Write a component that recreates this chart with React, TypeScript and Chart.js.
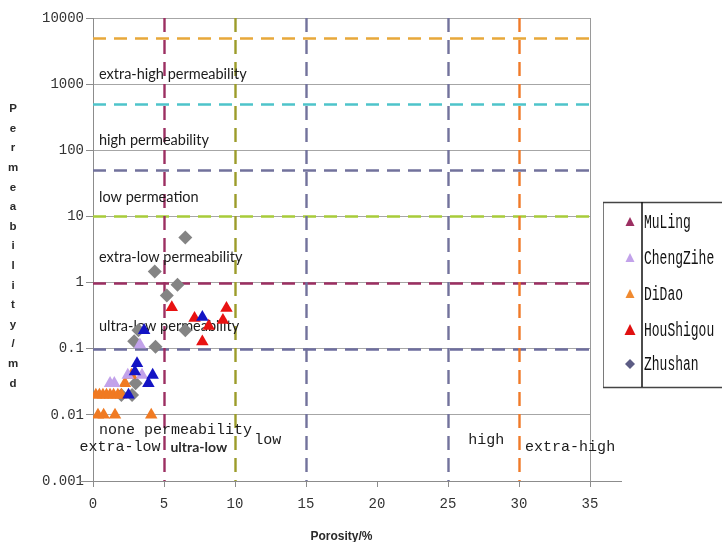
import React, { useEffect, useRef } from "react";
import { Chart, registerables } from "chart.js";

Chart.register(...registerables);

// ---------- data ----------
const xTickValues = [0, 5, 10, 15, 20, 25, 30, 35];
const yTickValues = [0.001, 0.01, 0.1, 1, 10, 100, 1000, 10000];
const yTickLabels = ["0.001", "0.01", "0.1", "1", "10", "100", "1000", "10000"];

const seriesNames = ["MuLing", "ChengZihe", "DiDao", "HouShigou", "Zhushan"];
const seriesPointColors = ["#1414C4", "#C2A2EA", "#F07A22", "#E81212", "#848484"];
const legendColors = ["#9C2F62", "#C2A2EA", "#F08A30", "#E01010", "#5C5C84"];
const seriesStyles = ["triangle", "triangle", "triangle", "triangle", "rectRot"];

const muLingX = [3.1, 2.95, 4.2, 3.9, 2.5, 3.6, 7.7];
const muLingY = [0.06, 0.045, 0.04, 0.03, 0.02, 0.19, 0.3];

const chengZiheX = [1.2, 1.5, 2.45, 3.45, 3.3];
const chengZiheY = [0.03, 0.03, 0.04, 0.04, 0.115];

const diDaoX = [0.2, 0.45, 0.7, 0.95, 1.2, 1.45, 1.75, 2.0, 0.35, 0.75, 1.55, 4.1, 2.25, 2.7];
const diDaoY = [0.02, 0.02, 0.02, 0.02, 0.02, 0.02, 0.02, 0.02, 0.01, 0.01, 0.01, 0.01, 0.03, 0.04];

const houShigouX = [5.55, 7.15, 8.15, 9.15, 9.4, 7.7];
const houShigouY = [0.42, 0.29, 0.22, 0.27, 0.41, 0.128];

const zhushanX = [6.5, 4.35, 5.95, 5.2, 6.5, 3.2, 2.9, 4.4, 3.0, 2.0, 2.75];
const zhushanY = [4.8, 1.47, 0.93, 0.64, 0.19, 0.19, 0.13, 0.107, 0.03, 0.02, 0.02];

const seriesX = [muLingX, chengZiheX, diDaoX, houShigouX, zhushanX];
const seriesY = [muLingY, chengZiheY, diDaoY, houShigouY, zhushanY];

// classification boundary lines
const hLineValues = [5000, 500, 50, 10, 1, 0.1];
const hLineColors = ["#E8A83A", "#4EC4CA", "#72729C", "#A8CC3A", "#9C2F62", "#6E6E9E"];
const vLineValues = [5, 10, 15, 25, 30];
const vLineColors = ["#9C2F62", "#9C9C2A", "#72729C", "#72729C", "#F07A28"];

// permeability zone labels
const zoneLabels = [
  "extra-high permeability",
  "high permeability",
  "low permeation",
  "extra-low permeability",
  "ultra-low permeability",
  "none permeability",
];
const zoneLabelValues = [1400, 140, 19.5, 2.4, 0.22, 0.0058];

// porosity class labels
const porosityLabels = ["extra-low", "ultra-low", "low", "high", "extra-high"];
const porosityLabelCenters = [1.9, 7.45, 12.3, 27.7, 33.6];

const MONO = '"Liberation Mono", "DejaVu Sans Mono", monospace';
const SANS = 'Lato, "Open Sans", sans-serif';

const overlayPlugin = {
  id: "overlay",
  beforeDatasetsDraw(chart: any) {
    const { ctx, chartArea, scales } = chart;
    const { left, right, top, bottom } = chartArea;
    const x = scales.x;
    const y = scales.y;
    ctx.save();
    ctx.lineWidth = 2.4;
    ctx.setLineDash([13, 8]);
    hLineValues.forEach((v, i) => {
      const py = Math.round(y.getPixelForValue(v)) + 0.5;
      ctx.strokeStyle = hLineColors[i];
      ctx.beginPath();
      ctx.moveTo(left, py);
      ctx.lineTo(right, py);
      ctx.stroke();
    });
    ctx.setLineDash([14, 8]);
    vLineValues.forEach((v, i) => {
      const px = Math.round(x.getPixelForValue(v)) + 0.5;
      ctx.strokeStyle = vLineColors[i];
      ctx.beginPath();
      ctx.moveTo(px, top);
      ctx.lineTo(px, bottom);
      ctx.stroke();
    });
    ctx.setLineDash([]);

    // zone labels
    ctx.fillStyle = "#1c1c1c";
    ctx.textBaseline = "middle";
    ctx.textAlign = "left";
    zoneLabels.forEach((t, i) => {
      const py = y.getPixelForValue(zoneLabelValues[i]);
      if (i === zoneLabels.length - 1) {
        ctx.font = `15px ${MONO}`;
      } else {
        ctx.font = `14.5px ${SANS}`;
      }
      ctx.fillText(t, left + 6, py);
    });

    // porosity labels near bottom
    porosityLabels.forEach((t, i) => {
      const px = x.getPixelForValue(porosityLabelCenters[i]);
      ctx.textAlign = "center";
      if (t === "ultra-low") {
        ctx.font = `bold 14px ${SANS}`;
        ctx.fillStyle = "#2a2a2a";
      } else {
        ctx.font = `15px ${MONO}`;
        ctx.fillStyle = "#1c1c1c";
      }
      const off = t === "low" || t === "high" ? 41 : 34;
      ctx.fillText(t, px, bottom - off);
    });
    ctx.restore();
  },
  afterDraw(chart: any) {
    const { ctx, chartArea } = chart;
    const { left, right, bottom } = chartArea;
    ctx.save();
    // extended baseline under bottom labels
    ctx.strokeStyle = "#8c8c8c";
    ctx.lineWidth = 1;
    ctx.beginPath();
    ctx.moveTo(80, Math.round(bottom) + 0.5);
    ctx.lineTo(622, Math.round(bottom) + 0.5);
    ctx.stroke();

    // y axis title (stacked letters)
    const yTitle = "Permeability/md";
    ctx.fillStyle = "#2a2a2a";
    ctx.font = 'bold 11.5px "Liberation Sans", Arial, sans-serif';
    ctx.textAlign = "center";
    ctx.textBaseline = "middle";
    const step = 19.6;
    const startY = 109;
    for (let i = 0; i < yTitle.length; i++) {
      ctx.fillText(yTitle[i], 13, startY + i * step);
    }

    // x axis title
    ctx.font = 'bold 12px "Liberation Sans", Arial, sans-serif';
    ctx.fillText("Porosity/%", (left + right) / 2, 537);

    // legend box
    const lx = 603;
    const ly = 202;
    const lb = 387;
    ctx.strokeStyle = "#7a7a7a";
    ctx.lineWidth = 1;
    ctx.beginPath();
    ctx.moveTo(lx + 0.5, ly);
    ctx.lineTo(lx + 0.5, lb);
    ctx.stroke();
    ctx.strokeStyle = "#444";
    ctx.lineWidth = 1.5;
    ctx.beginPath();
    ctx.moveTo(lx, ly + 0.5);
    ctx.lineTo(722, ly + 0.5);
    ctx.moveTo(lx, lb + 0.5);
    ctx.lineTo(722, lb + 0.5);
    ctx.stroke();
    ctx.strokeStyle = "#111";
    ctx.lineWidth = 1.5;
    ctx.beginPath();
    ctx.moveTo(642, ly);
    ctx.lineTo(642, lb);
    ctx.stroke();

    const rowY = [222, 258, 294, 330, 364];
    seriesNames.forEach((name, i) => {
      const cy = rowY[i];
      const mx = 630;
      ctx.fillStyle = legendColors[i];
      ctx.beginPath();
      if (seriesStyles[i] === "rectRot") {
        ctx.moveTo(mx, cy - 5);
        ctx.lineTo(mx + 5, cy);
        ctx.lineTo(mx, cy + 5);
        ctx.lineTo(mx - 5, cy);
      } else {
        const s = i === 3 ? 5.5 : 4.5;
        ctx.moveTo(mx, cy - s * 1.1);
        ctx.lineTo(mx + s, cy + s * 0.9);
        ctx.lineTo(mx - s, cy + s * 0.9);
      }
      ctx.closePath();
      ctx.fill();

      ctx.save();
      ctx.fillStyle = "#111";
      ctx.font = `13px ${MONO}`;
      ctx.textAlign = "left";
      ctx.textBaseline = "middle";
      ctx.translate(644, cy);
      ctx.scale(1, 1.6);
      ctx.fillText(name, 0, 0);
      ctx.restore();
    });

    ctx.restore();
  },
};

export default function App() {
  const canvasRef = useRef<HTMLCanvasElement | null>(null);

  useEffect(() => {
    const canvas = canvasRef.current;
    if (!canvas) return;
    const datasets = seriesNames.map((name, i) => ({
      label: name,
      data: seriesX[i].map((xv, j) => ({ x: xv, y: seriesY[i][j] })),
      pointStyle: seriesStyles[i] as any,
      pointRadius: seriesStyles[i] === "rectRot" ? 7 : 7.2,
      pointBackgroundColor: seriesPointColors[i],
      pointBorderColor: seriesPointColors[i],
      pointBorderWidth: 0,
      showLine: false,
      order: i === 4 ? 1 : 0,
    }));

    const chart = new Chart(canvas, {
      type: "scatter",
      data: { datasets },
      plugins: [overlayPlugin],
      options: {
        animation: false,
        responsive: false,
        layout: { padding: { left: 0, top: 18, right: 132, bottom: 0 } },
        plugins: {
          legend: { display: false },
          tooltip: { enabled: false },
        },
        scales: {
          x: {
            type: "linear",
            min: 0,
            max: 35,
            afterFit: (s: any) => {
              s.height = 61;
            },
            afterBuildTicks: (s: any) => {
              s.ticks = xTickValues.map((v) => ({ value: v }));
            },
            ticks: {
              font: { family: "Liberation Mono", size: 14 },
              color: "#333",
              padding: 9,
              maxRotation: 0,
            },
            grid: {
              color: (c: any) => (c.tick && c.tick.value === 35 ? "#9a9a9a" : "rgba(0,0,0,0)"),
              tickColor: "#8c8c8c",
              tickLength: 6,
              lineWidth: 1,
            },
            border: { display: true, color: "#8c8c8c" },
          },
          y: {
            type: "logarithmic",
            min: 0.001,
            max: 10000,
            afterFit: (s: any) => {
              s.width = 93;
            },
            afterBuildTicks: (s: any) => {
              s.ticks = yTickValues.map((v) => ({ value: v }));
            },
            ticks: {
              font: { family: "Liberation Mono", size: 14 },
              color: "#333",
              padding: 2,
              callback: (_v: any, idx: number) => yTickLabels[idx],
            },
            grid: {
              color: "#a6a6a6",
              tickColor: "#8c8c8c",
              tickLength: 7,
              lineWidth: 1,
            },
            border: { display: true, color: "#8c8c8c" },
          },
        },
      },
    });
    return () => chart.destroy();
  }, []);

  return (
    <div style={{ position: "fixed", left: 0, top: 0, width: 722, height: 542, background: "#fff" }}>
      <canvas ref={canvasRef} width={722} height={542} style={{ display: "block" }} />
    </div>
  );
}
